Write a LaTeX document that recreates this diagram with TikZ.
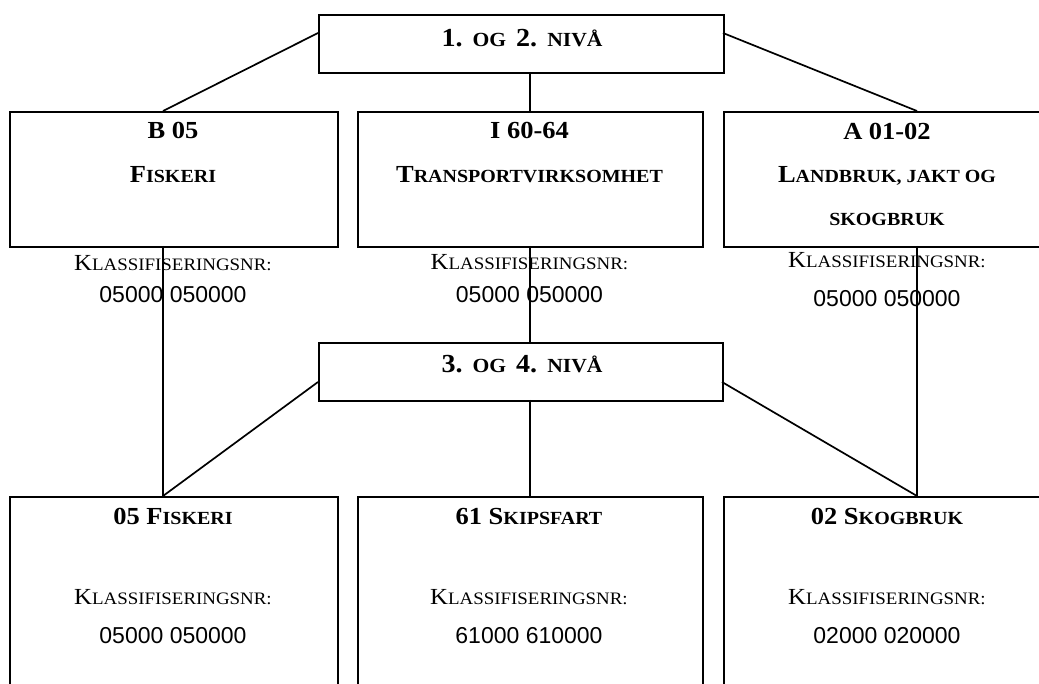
\documentclass[tikz,border=0pt]{standalone}
\usepackage{fontspec}
\setmainfont{Liberation Serif}[FakeStretch=1.08]
\newfontfamily\digitfont{Liberation Sans}
\newcommand\hb[1]{{\fontsize{24.5}{28}\selectfont\bfseries #1}}
\newcommand\hs[1]{{\fontsize{18.5}{22}\selectfont\bfseries #1}}
\newcommand\tb[1]{{\fontsize{26}{30}\selectfont\bfseries #1}}
\newcommand\ts[1]{{\fontsize{20}{24}\selectfont\bfseries #1}}
\newcommand\rb[1]{{\fontsize{23}{26}\selectfont #1}}
\newcommand\rs[1]{{\fontsize{17.5}{20}\selectfont #1}}
\newcommand\dg[1]{{\digitfont\fontsize{23}{26}\selectfont #1}}
\newcommand\tgap{\hspace{10pt}}
\tikzset{
  box/.style={draw, line width=1.8pt, inner sep=0pt, anchor=north west},
  conn/.style={line width=1.7pt},
  txt/.style={anchor=base, inner sep=0pt}
}
\begin{document}
\begin{tikzpicture}[x=1pt,y=-1pt]
\useasboundingbox (0,0) rectangle (1039,684);
\clip (0,0) rectangle (1039,684);
% boxes
\node[box, minimum width=405, minimum height=58] (top) at (318,14) {};
\node[box, minimum width=328, minimum height=135] (bA) at (9,111) {};
\node[box, minimum width=345, minimum height=135] (bB) at (357,111) {};
\node[box, minimum width=330, minimum height=135] (bC) at (723,111) {};
\node[box, minimum width=404, minimum height=58] (mid) at (318,342) {};
\node[box, minimum width=328, minimum height=220] (cA) at (9,496) {};
\node[box, minimum width=345, minimum height=220] (cB) at (357,496) {};
\node[box, minimum width=330, minimum height=220] (cC) at (723,496) {};
% attachment points
\coordinate (tl) at (318,33);
\coordinate (tr) at (723,33);
\coordinate (ml) at (318,382);
\coordinate (mr) at (722,382);
\coordinate (aTop) at (163,111);
\coordinate (aBot) at (163,246);
\coordinate (bTop) at (530,111);
\coordinate (bBot) at (530,246);
\coordinate (cTop) at (917,111);
\coordinate (cBot) at (917,246);
\coordinate (dA) at (163,496);
\coordinate (dB) at (530,496);
\coordinate (dC) at (917,496);
\coordinate (tBot) at (530,72);
\coordinate (mTop) at (530,342);
\coordinate (mBot) at (530,400);
% texts
\node[txt] (ttop) at (522,47) {\tb{1.}\tgap\ts{OG}\tgap\tb{2.}\tgap\ts{NIVÅ}};
\node[txt] (tmid) at (522,373) {\tb{3.}\tgap\ts{OG}\tgap\tb{4.}\tgap\ts{NIVÅ}};
\node[txt] (a1) at (173,139) {\hb{B 05}};
\node[txt] (a2) at (173,183) {\hb{F}\hs{ISKERI}};
\node[txt] (a3) at (173,271) {\rb{K}\rs{LASSIFISERINGSNR:}};
\node[txt] (a4) at (173,303) {\dg{05000 050000}};
\node[txt] (b1) at (529.5,139) {\hb{I 60-64}};
\node[txt] (b2) at (529.5,183) {\hb{T}\hs{RANSPORTVIRKSOMHET}};
\node[txt] (b3) at (529.5,270) {\rb{K}\rs{LASSIFISERINGSNR:}};
\node[txt] (b4) at (529.5,303) {\dg{05000 050000}};
\node[txt] (c1) at (887,140) {\hb{A 01-02}};
\node[txt] (c2) at (887,183) {\hb{L}\hs{ANDBRUK, JAKT OG}};
\node[txt] (c3) at (887,226) {\hs{SKOGBRUK}};
\node[txt] (c4) at (887,268) {\rb{K}\rs{LASSIFISERINGSNR:}};
\node[txt] (c5) at (887,307) {\dg{05000 050000}};
\node[txt] (d1) at (173,524) {\hb{05 F}\hs{ISKERI}};
\node[txt] (d2) at (173,604) {\rb{K}\rs{LASSIFISERINGSNR:}};
\node[txt] (d3) at (173,643) {\dg{05000 050000}};
\node[txt] (e1) at (529,524) {\hb{61 S}\hs{KIPSFART}};
\node[txt] (e2) at (529,604) {\rb{K}\rs{LASSIFISERINGSNR:}};
\node[txt] (e3) at (529,643) {\dg{61000 610000}};
\node[txt] (f1) at (887,524) {\hb{02 S}\hs{KOGBRUK}};
\node[txt] (f2) at (887,604) {\rb{K}\rs{LASSIFISERINGSNR:}};
\node[txt] (f3) at (887,643) {\dg{02000 020000}};
% connectors
\draw[conn] (tl) -- (aTop);
\draw[conn] (tBot) -- (bTop);
\draw[conn] (tr) -- (cTop);
\draw[conn] (aBot) -- (dA);
\draw[conn] (bBot) -- (mTop);
\draw[conn] (cBot) -- (dC);
\draw[conn] (ml) -- (dA);
\draw[conn] (mBot) -- (dB);
\draw[conn] (mr) -- (dC);
\end{tikzpicture}
\end{document}
